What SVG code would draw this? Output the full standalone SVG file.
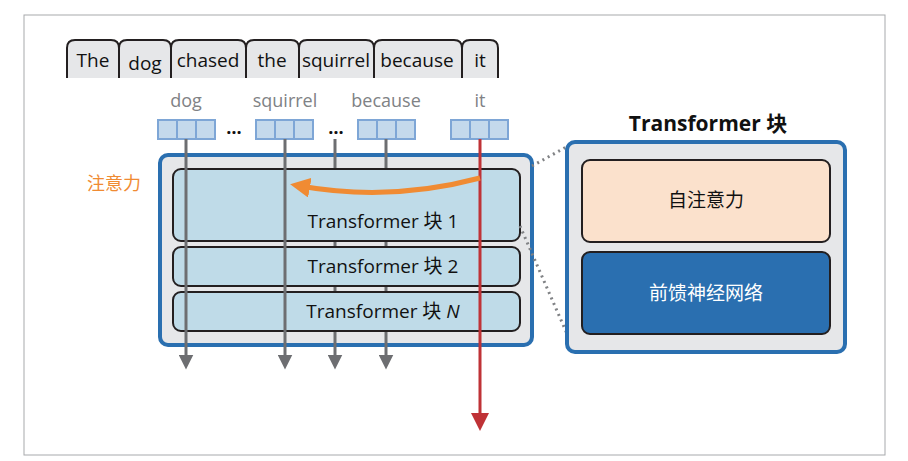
<svg xmlns="http://www.w3.org/2000/svg" width="908" height="461" viewBox="0 0 908 461">
<style>
text{font-family:"Open Sans","Noto Sans CJK SC",sans-serif;}
.tab{fill:#e6e7e9;stroke:#231f20;stroke-width:2}
.tt{font-size:19px;fill:#111;text-anchor:middle}
.lb{font-size:18px;fill:#808285;text-anchor:middle}
.cell{fill:#c4d9ec;stroke:#7ea6d6;stroke-width:2}
.blk{fill:#bfdbe8;stroke:#231f20;stroke-width:2}
.bt{font-size:19px;fill:#111;text-anchor:middle}
.gl{stroke:#6d6e71;stroke-width:3;fill:none}
</style>
<defs>
<marker id="ga" markerWidth="5" markerHeight="5" refX="2.5" refY="2.5" orient="auto" markerUnits="strokeWidth"><path d="M0,0 L5,2.5 L0,5Z" fill="#6d6e71"/></marker>
<marker id="ra" markerWidth="6" markerHeight="6" refX="3" refY="3" orient="auto" markerUnits="strokeWidth"><path d="M0,0 L6,3 L0,6Z" fill="#bf3236"/></marker>
<marker id="oa" markerWidth="4" markerHeight="4" refX="2" refY="2" orient="auto" markerUnits="strokeWidth"><path d="M0,0 L4,2 L0,4Z" fill="#f08b33"/></marker>
</defs>
<rect x="24" y="15" width="861" height="440" fill="#fff" stroke="#a7a9ac" stroke-width="1"/>
<g id="tokens">
<path class="tab" d="M67,78 V48 Q67,40 75,40 H111 Q119,40 119,48 V78"/><text class="tt" x="93" y="67">The</text>
<path class="tab" d="M119,78 V48 Q119,40 127,40 H163 Q171,40 171,48 V78"/><text class="tt" x="145" y="70">dog</text>
<path class="tab" d="M171,78 V48 Q171,40 179,40 H238 Q246,40 246,48 V78"/><text class="tt" x="208" y="67">chased</text>
<path class="tab" d="M246,78 V48 Q246,40 254,40 H291 Q299,40 299,48 V78"/><text class="tt" x="272" y="67">the</text>
<path class="tab" d="M299,78 V48 Q299,40 307,40 H366 Q374,40 374,48 V78"/><text class="tt" x="336" y="67">squirrel</text>
<path class="tab" d="M374,78 V48 Q374,40 382,40 H454 Q462,40 462,48 V78"/><text class="tt" x="417" y="67">because</text>
<path class="tab" d="M462,78 V48 Q462,40 470,40 H490 Q498,40 498,48 V78"/><text class="tt" x="480" y="67">it</text>
</g>
<g id="embeddings">
<text class="lb" x="186" y="107">dog</text><text class="lb" x="285" y="107">squirrel</text><text class="lb" x="386" y="107">because</text><text class="lb" x="480" y="107">it</text>
<g><rect class="cell" x="158" y="120" width="19" height="19"/><rect class="cell" x="177" y="120" width="19" height="19"/><rect class="cell" x="196" y="120" width="19" height="19"/></g>
<g><rect class="cell" x="256" y="120" width="19" height="19"/><rect class="cell" x="275" y="120" width="19" height="19"/><rect class="cell" x="294" y="120" width="19" height="19"/></g>
<g><rect class="cell" x="358" y="120" width="19" height="19"/><rect class="cell" x="377" y="120" width="19" height="19"/><rect class="cell" x="396" y="120" width="19" height="19"/></g>
<g><rect class="cell" x="451" y="120" width="19" height="19"/><rect class="cell" x="470" y="120" width="19" height="19"/><rect class="cell" x="489" y="120" width="19" height="19"/></g>
<text x="234" y="134" font-size="18" font-weight="bold" text-anchor="middle" fill="#111">…</text>
<text x="336" y="134" font-size="18" font-weight="bold" text-anchor="middle" fill="#111">…</text>
</g>
<g id="stack">
<rect x="160" y="155" width="372" height="190" rx="8" fill="#e6e7e9" stroke="#2a6fb0" stroke-width="4"/>
</g>
<g id="connectors">
<line class="gl" x1="335" y1="139" x2="335" y2="362" marker-end="url(#ga)"/>
<line class="gl" x1="386" y1="139" x2="386" y2="362" marker-end="url(#ga)"/>
</g>
<g id="blocks">
<rect class="blk" x="173" y="169" width="347" height="72" rx="8"/>
<text class="bt" x="383" y="228">Transformer 块 1</text>
<rect class="blk" x="173" y="247" width="347" height="39" rx="8"/>
<text class="bt" x="383" y="273">Transformer 块 2</text>
<rect class="blk" x="173" y="292" width="347" height="39" rx="8"/>
<text class="bt" x="383" y="318">Transformer 块 <tspan font-style="italic">N</tspan></text>
</g>
<g id="connectors2">
<line class="gl" x1="186" y1="139" x2="186" y2="362" marker-end="url(#ga)"/>
<line class="gl" x1="285" y1="139" x2="285" y2="362" marker-end="url(#ga)"/>
<line x1="480" y1="139" x2="480" y2="422" stroke="#bf3236" stroke-width="3" marker-end="url(#ra)"/>
<path d="M480,178 Q390,202 300,186" fill="none" stroke="#f08b33" stroke-width="5" marker-end="url(#oa)"/>
<line x1="532" y1="166" x2="568" y2="146" stroke="#808285" stroke-width="3" stroke-dasharray="2,4"/>
<line x1="520" y1="226" x2="568" y2="336" stroke="#808285" stroke-width="3" stroke-dasharray="2,4"/>
</g>
<text x="114" y="190" font-size="18" fill="#f08b33" text-anchor="middle">注意力</text>
<g id="detail">
<text x="708" y="131" font-size="21" font-weight="bold" fill="#111" text-anchor="middle">Transformer 块</text>
<rect x="567" y="142" width="278" height="210" rx="8" fill="#e6e7e9" stroke="#2a6fb0" stroke-width="4"/>
<rect x="582" y="160" width="248" height="82" rx="8" fill="#fbe1cc" stroke="#231f20" stroke-width="2"/>
<text x="706" y="207" font-size="19" fill="#111" text-anchor="middle">自注意力</text>
<rect x="582" y="252" width="248" height="82" rx="8" fill="#2a6fb0" stroke="#231f20" stroke-width="2"/>
<text x="706" y="300" font-size="19" fill="#fff" text-anchor="middle">前馈神经网络</text>
</g>
</svg>
